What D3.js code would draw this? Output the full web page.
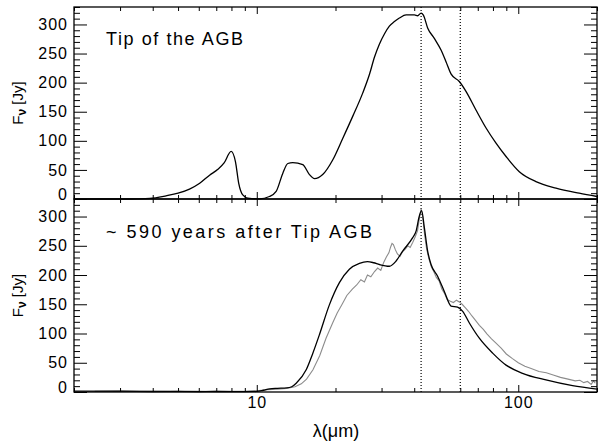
<!DOCTYPE html>
<html>
<head>
<meta charset="utf-8">
<script src="https://cdn.jsdelivr.net/npm/d3@7"></script>
<style>
  body { margin: 0; background: #fff; }
  svg { display: block; font-family: "Liberation Sans", Arial, sans-serif; }
</style>
</head>
<body>
<div id="chart"></div>
<script>
// 波长 (μm) 与流量 (Jy)：上图 Tip of the AGB
var tipWave = [2, 3, 3.5, 3.9, 4.5, 5.0, 5.53, 6.05, 6.6, 7.1, 7.5, 7.98, 8.29, 8.53, 8.84, 9.24,
  10.24, 11.18, 11.86, 12.57, 13.14, 13.73, 14.99, 15.9, 16.62, 17.87, 19.51, 21.31, 23.27, 25.41,
  26.96, 28.2, 29.43, 30.8, 32.14, 33.6, 35.1, 37.24, 40.06, 41.24, 42.49, 43.36, 45.02, 47.75,
  50.65, 52.92, 55.3, 59.5, 63.1, 68.9, 75.3, 82.2, 89.8, 100.9, 116.8, 139.4, 171, 200];
var tipFlux = [0, 0, 0.3, 1, 5.5, 10, 17, 27, 41, 51, 62, 82, 64, 27, 7, 1.5,
  0.3, 4.3, 13, 44, 61, 62.5, 59, 42, 35, 42, 67, 104, 142, 182,
  214, 244, 266, 284, 297, 305, 311, 316.5, 316.5, 315, 319.5, 316, 294, 276,
  256, 236, 215, 202, 185, 153, 122, 96, 73, 47, 30, 18.7, 10, 4.3];

// 下图：590 年后的模型 (黑线)
var postWave = [2, 5, 8, 10, 10.6, 11.2, 12, 13, 13.6, 14.15, 15.45, 16.37, 17.36, 18.95, 20.7,
  22.6, 24.69, 26.49, 28, 29.43, 32.14, 34.1, 36.14, 39.47, 40.66, 41.85, 42.7, 43.73, 45.02,
  46.39, 49.15, 52.14, 55.3, 58.6, 61.3, 65, 70.96, 79.8, 89.8, 103.8, 127.6, 161.3, 200];
var postFlux = [1.5, 1, 0.5, 1, 3, 5.5, 6.3, 7, 9, 15, 38, 66, 98, 149, 187,
  210, 220, 223, 221, 218, 215, 224, 241, 264, 275, 301, 310, 281, 241,
  218, 198, 172, 147, 145, 138, 118, 92, 66.5, 46, 32, 20.6, 10.8, 5];

// 下图：观测光谱 (灰线)
var obsWave = [2.4, 3, 4, 5, 6, 7, 8, 9, 10, 11, 12, 13, 14, 14.8, 15.5, 16.4, 17.4, 18.4, 19.5,
  20.3, 21.2, 22.1, 23.2, 24.1, 25, 25.8, 26.5, 27.3, 28.2, 29, 29.8, 30.6, 31.3, 32, 32.5, 32.9,
  33.3, 33.9, 34.5, 35.3, 36.1, 36.9, 37.8, 38.6, 39.5, 40.4, 41.2, 41.9, 42.5, 43.1, 43.8, 44.6,
  45.5, 46.5, 47.6, 48.6, 49.8, 51, 52.3, 53.5, 55, 56.5, 58, 59.5, 61, 62.8, 64.5, 66.5, 68.5,
  71, 73.5, 76, 79, 82, 86, 90, 95, 100, 106, 112, 120, 128, 136, 145, 155, 165, 172, 178, 184,
  190, 194, 197];
var obsFlux = [1, 2, 0, 1, 0, 2, 1, 1, 2, 4, 5, 6, 9, 14, 22, 38, 62, 92, 118,
  135, 150, 165, 176, 183, 192, 188, 200, 197, 206, 212, 208, 222, 231, 238, 248, 254,
  252, 243, 236, 232, 240, 244, 250, 247, 256, 266, 276, 298, 313, 300, 270, 245,
  228, 214, 205, 196, 190, 176, 168, 158, 155, 153, 157, 154, 150, 144, 138, 130, 123,
  114, 107, 99, 91, 84, 75, 65, 57, 50, 44, 40, 35, 33, 29, 25, 22, 19, 20, 16, 18,
  13, 19, 15];

// 竖直虚线位置
var markWave = [42.5, 60];
var yMajor = [0, 50, 100, 150, 200, 250, 300];
var xMajor = [10, 100];

var W = 598, H = 443;
var L = 74, R = 597;
// 两个面板的上下边界
var panels = [
  {top: 7, bottom: 199, text: "Tip of the AGB", textX: 106, textY: 45, textLen: 137},
  {top: 199, bottom: 392, text: "~ 590 years after Tip AGB", textX: 106, textY: 238, textLen: 266}
];

var svg = d3.select("#chart").append("svg")
  .attr("width", W).attr("height", H);

var x = d3.scaleLog().domain([2, 200]).range([L, R]);

panels.forEach(function (p, i) {
  var y = d3.scaleLinear().domain([0, 330]).range([p.bottom, p.top]);
  var g = svg.append("g");

  // 虚线
  g.selectAll("line.mark").data(markWave).enter().append("line")
    .attr("x1", function (d) { return x(d); }).attr("x2", function (d) { return x(d); })
    .attr("y1", p.top).attr("y2", p.bottom)
    .attr("stroke", "#000").attr("stroke-width", 1.2)
    .attr("stroke-dasharray", "1,2");

  // 曲线
  var line = d3.line()
    .x(function (d) { return x(d[0]); })
    .y(function (d) { return y(d[1]); });
  if (i === 0) {
    g.append("path").datum(d3.zip(tipWave, tipFlux))
      .attr("d", line.curve(d3.curveMonotoneX)).attr("fill", "none")
      .attr("stroke", "#000").attr("stroke-width", 1.3);
  } else {
    g.append("path").datum(d3.zip(obsWave, obsFlux))
      .attr("d", line.curve(d3.curveLinear)).attr("fill", "none")
      .attr("stroke", "#8c8c8c").attr("stroke-width", 1.1);
    g.append("path").datum(d3.zip(postWave, postFlux))
      .attr("d", line.curve(d3.curveMonotoneX)).attr("fill", "none")
      .attr("stroke", "#000").attr("stroke-width", 1.3);
  }

  // y 轴：左右，刻度朝内
  var yMinor = y.ticks(33).filter(function (d) { return yMajor.indexOf(d) < 0; });
  var left = g.append("g").attr("transform", "translate(" + L + ",0)")
    .call(d3.axisLeft(y).tickValues(yMajor).tickSize(-13).tickPadding(6));
  left.selectAll("text")
    .attr("dy", function (d) { return d === 0 ? "0.04em" : "0.32em"; });
  g.append("g").attr("transform", "translate(" + L + ",0)")
    .call(d3.axisLeft(y).tickValues(yMinor).tickSize(-6).tickFormat(""));
  g.append("g").attr("transform", "translate(" + R + ",0)")
    .call(d3.axisRight(y).tickValues(yMajor).tickSize(-13).tickFormat(""));
  g.append("g").attr("transform", "translate(" + R + ",0)")
    .call(d3.axisRight(y).tickValues(yMinor).tickSize(-6).tickFormat(""));

  // x 轴：上下，刻度朝内
  var xMinor = x.ticks().filter(function (d) { return xMajor.indexOf(d) < 0; });
  g.append("g").attr("transform", "translate(0," + p.bottom + ")")
    .call(d3.axisBottom(x).tickValues(xMajor).tickSize(-7).tickPadding(5)
      .tickFormat(i === 1 ? d3.format("d") : ""));
  g.append("g").attr("transform", "translate(0," + p.bottom + ")")
    .call(d3.axisBottom(x).tickValues(xMinor).tickSize(-4).tickFormat(""));
  g.append("g").attr("transform", "translate(0," + p.top + ")")
    .call(d3.axisTop(x).tickValues(xMajor).tickSize(-7).tickFormat(""));
  g.append("g").attr("transform", "translate(0," + p.top + ")")
    .call(d3.axisTop(x).tickValues(xMinor).tickSize(-4).tickFormat(""));

  g.selectAll(".domain").remove();
  g.selectAll(".tick line").attr("stroke", "#000").attr("stroke-width", 1);
  g.selectAll(".tick text").attr("fill", "#000")
    .style("font-size", "16px").style("letter-spacing", "1px")
    .style("font-family", "'Liberation Sans', Arial, sans-serif");

  // 边框
  g.append("rect").attr("x", L).attr("y", p.top)
    .attr("width", R - L).attr("height", p.bottom - p.top)
    .attr("fill", "none").attr("stroke", "#000").attr("stroke-width", 1.3);

  // 面板注释
  g.append("text").attr("x", p.textX).attr("y", p.textY)
    .attr("textLength", p.textLen).attr("lengthAdjust", "spacing")
    .style("font-size", "18px").text(p.text);

  // y 轴标题
  var yt = g.append("text")
    .attr("transform", "translate(23," + ((p.top + p.bottom) / 2) + ") rotate(-90)")
    .attr("text-anchor", "middle").style("font-size", "15px");
  yt.append("tspan").text("F");
  yt.append("tspan").attr("dy", 3).style("font-size", "12px").style("font-weight", "bold").text("ν");
  yt.append("tspan").attr("dy", -3).text(" [Jy]");
});

// x 轴标题
svg.append("text").attr("x", 336).attr("y", 437)
  .attr("text-anchor", "middle").style("font-size", "18px")
  .text("λ(μm)");
</script>
</body>
</html>
